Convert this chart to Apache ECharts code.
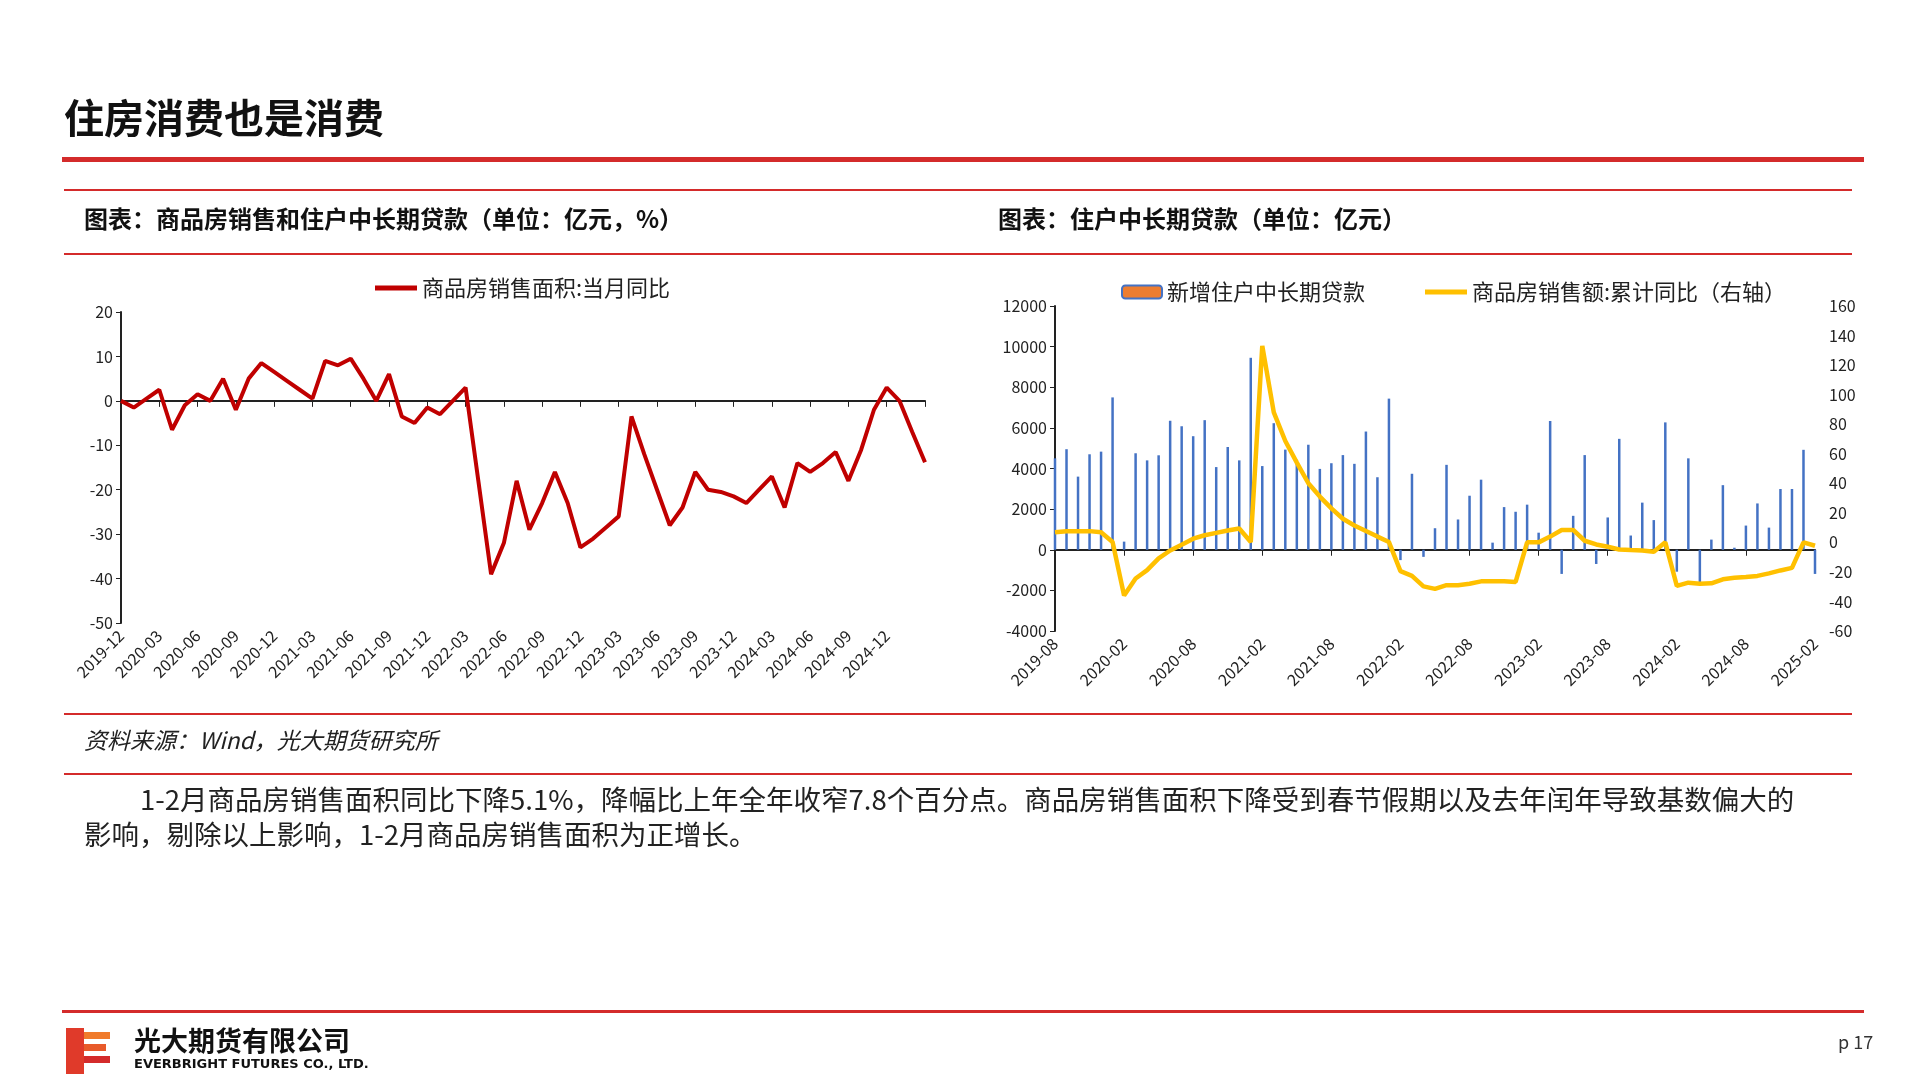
<!DOCTYPE html>
<html><head><meta charset="utf-8">
<script src="https://cdn.jsdelivr.net/npm/echarts@6/dist/echarts.min.js"></script>
<style>html,body{margin:0;padding:0;background:#fff;}#c{width:1920px;height:1080px;}</style>
</head><body><div id="c"></div>
<script>
// Left chart: 商品房销售面积:当月同比
const leftMonths = [];
(function(){let y=2019,m=12;for(let i=0;i<64;i++){leftMonths.push(y+'-'+String(m).padStart(2,'0'));m++;if(m>12){m=1;y++;}}})();
const areaYoY = [0,-1.5,0.5,2.5,-6.5,-1,1.5,0,5,-2,5,8.5,6.5,4.5,2.5,0.5,9,8,9.5,5,0,6,-3.5,-5,-1.5,-3,0,3,-18,-39,-32,-18,-29,-23,-16,-23,-33,-31,-28.5,-26,-3.5,-12,-20,-28,-24,-16,-20,-20.5,-21.5,-23,-20,-17,-24,-14,-16,-14,-11.5,-18,-11,-2,3,0,-7,-13.8];
// Right chart
const rightMonths = [];
(function(){let y=2019,m=8;for(let i=0;i<67;i++){rightMonths.push(y+'-'+String(m).padStart(2,'0'));m++;if(m>12){m=1;y++;}}})();
const newLoans = [4500,4950,3600,4700,4830,7500,400,4750,4400,4650,6350,6080,5590,6380,4070,5060,4400,9450,4120,6230,4930,4430,5170,3980,4260,4660,4230,5820,3570,7440,-510,3740,-350,1060,4180,1490,2660,3450,350,2100,1870,2220,840,6340,-1190,1670,4660,-700,1590,5460,700,2320,1460,6270,-1080,4500,-1600,500,3180,100,1190,2280,1090,2990,2990,4920,-1190];
const salesYoY = [6.9,7.6,7.6,7.6,6.8,0.2,-36,-24.5,-18.8,-10.8,-5.5,-1.6,2.5,4.8,6.4,8,9.4,0.2,133,88,68.6,54,40,31,23,16,11.4,7.7,3.9,0.2,-19.5,-22.7,-29.8,-31.5,-29,-29,-28,-26.4,-26.4,-26.4,-26.8,0,0,3.9,8.4,8.4,1.1,-1.4,-3,-4.8,-5.2,-5.5,-6.4,0,-29.5,-27.3,-28,-27.7,-25,-24,-23.4,-22.7,-21,-19,-17.3,0,-2.3];
const leftTicks = {min:-50,max:20,interval:10};

const F = '"Noto Sans CJK SC", sans-serif';
const lab = {color:'#222',fontSize:16,fontFamily:F};
const plain = v => String(v);
const hline = (y,w,c)=>({type:'rect',shape:{x:64,y:y,width:1788,height:w},style:{fill:c||'#d42b2b'}});
const chart = echarts.init(document.getElementById('c'));
chart.setOption({
  animation:false,
  graphic:[
    {type:'text',left:64,top:98,style:{text:'住房消费也是消费',fontSize:40,fontWeight:'bold',fontFamily:F,fill:'#111'}},
    {type:'rect',shape:{x:62,y:157,width:1802,height:5},style:{fill:'#d42b2b'}},
    hline(189,2),hline(253,2),hline(713,2),hline(773,2),
    {type:'text',left:84,top:207,style:{text:'图表：商品房销售和住户中长期贷款（单位：亿元，%）',fontSize:24,fontWeight:'bold',fontFamily:F,fill:'#111'}},
    {type:'text',left:998,top:207,style:{text:'图表：住户中长期贷款（单位：亿元）',fontSize:24,fontWeight:'bold',fontFamily:F,fill:'#111'}},
    {type:'text',left:84,top:729,style:{text:'资料来源：Wind，光大期货研究所',fontSize:23,fontStyle:'italic',fontFamily:F,fill:'#222'}},
    {type:'text',left:140,top:786,style:{text:'1-2月商品房销售面积同比下降5.1%，降幅比上年全年收窄7.8个百分点。商品房销售面积下降受到春节假期以及去年闰年导致基数偏大的',fontSize:27.5,fontFamily:F,fill:'#222'}},
    {type:'text',left:84,top:821,style:{text:'影响，剔除以上影响，1-2月商品房销售面积为正增长。',fontSize:27.5,fontFamily:F,fill:'#222'}},
    {type:'rect',shape:{x:62,y:1010,width:1802,height:3},style:{fill:'#d42b2b'}},
    {type:'rect',shape:{x:66,y:1028,width:18,height:46},style:{fill:'#e03a2a'}},
    {type:'rect',shape:{x:84,y:1032,width:26,height:7},style:{fill:'#f07a2a'}},
    {type:'rect',shape:{x:84,y:1044,width:22,height:7},style:{fill:'#e85a2a'}},
    {type:'rect',shape:{x:84,y:1056,width:26,height:7},style:{fill:'#d42b2b'}},
    {type:'text',left:134,top:1027,style:{text:'光大期货有限公司',fontSize:27,fontWeight:'bold',fontFamily:F,fill:'#111'}},
    {type:'text',left:134,top:1058,style:{text:'EVERBRIGHT FUTURES CO., LTD.',fontSize:13,fontWeight:'bold',fontFamily:'"DejaVu Sans", sans-serif',fill:'#111'}},
    {type:'text',left:1838,top:1033,style:{text:'p 17',fontSize:18,fontFamily:F,fill:'#333'}}
  ],
  legend:[
    {data:['商品房销售面积:当月同比'],left:370,top:272,itemWidth:42,itemHeight:5,icon:'rect',textStyle:{fontSize:22,fontFamily:F,color:'#222'}},
    {data:[{name:'新增住户中长期贷款',itemStyle:{color:'#ED7D31',borderColor:'#4472C4',borderWidth:2}}],left:1116,top:276,itemWidth:40,itemHeight:13,textStyle:{fontSize:22,fontFamily:F,color:'#222'}},
    {data:['商品房销售额:累计同比（右轴）'],left:1420,top:276,itemWidth:42,itemHeight:5,icon:'rect',textStyle:{fontSize:22,fontFamily:F,color:'#222'}}
  ],
  grid:[
    {left:121,top:312,width:804,height:311},
    {left:1055,top:306,width:760,height:325}
  ],
  xAxis:[
    {gridIndex:0,type:'category',position:'bottom',data:leftMonths,boundaryGap:false,axisLine:{show:false},axisTick:{show:false},
     axisLabel:Object.assign({},lab,{rotate:45,interval:(i)=>i%3===0&&i<=60,margin:10})},
    {gridIndex:0,type:'category',position:'bottom',data:leftMonths,boundaryGap:false,axisLine:{onZero:true,onZeroAxisIndex:0,lineStyle:{color:'#222',width:2}},axisTick:{show:true,interval:2,length:6,lineStyle:{color:'#222'}},axisLabel:{show:false}},
    {gridIndex:1,type:'category',position:'bottom',data:rightMonths,boundaryGap:false,axisLine:{show:false},axisTick:{show:false},
     axisLabel:Object.assign({},lab,{rotate:45,interval:5,margin:10})},
    {gridIndex:1,type:'category',position:'bottom',data:rightMonths,boundaryGap:false,axisLine:{onZero:true,onZeroAxisIndex:1,lineStyle:{color:'#222',width:2}},axisTick:{show:true,interval:5,length:6,lineStyle:{color:'#222'}},axisLabel:{show:false}}
  ],
  yAxis:[
    {gridIndex:0,type:'value',min:leftTicks.min,max:leftTicks.max,interval:leftTicks.interval,splitLine:{show:false},axisLine:{show:true,lineStyle:{color:'#222',width:2}},axisTick:{show:true,lineStyle:{color:'#222'}},axisLabel:Object.assign({formatter:plain},lab)},
    {gridIndex:1,type:'value',min:-4000,max:12000,interval:2000,splitLine:{show:false},axisLine:{show:true,lineStyle:{color:'#222',width:2}},axisTick:{show:true,lineStyle:{color:'#222'}},axisLabel:Object.assign({formatter:plain},lab)},
    {gridIndex:1,type:'value',min:-60,max:160,interval:20,position:'right',splitLine:{show:false},axisLine:{show:false},axisTick:{show:false},axisLabel:Object.assign({formatter:plain,margin:14},lab)}
  ],
  series:[
    {name:'商品房销售面积:当月同比',type:'line',xAxisIndex:0,yAxisIndex:0,data:areaYoY,symbol:'none',lineStyle:{color:'#C00000',width:4},itemStyle:{color:'#C00000'}},
    {name:'新增住户中长期贷款',type:'bar',xAxisIndex:2,yAxisIndex:1,data:newLoans,barWidth:2.5,itemStyle:{color:'#4472C4'}},
    {name:'商品房销售额:累计同比（右轴）',type:'line',xAxisIndex:2,yAxisIndex:2,data:salesYoY,symbol:'none',lineStyle:{color:'#FFC000',width:4.5},itemStyle:{color:'#FFC000'}}
  ]
});
</script></body></html>
